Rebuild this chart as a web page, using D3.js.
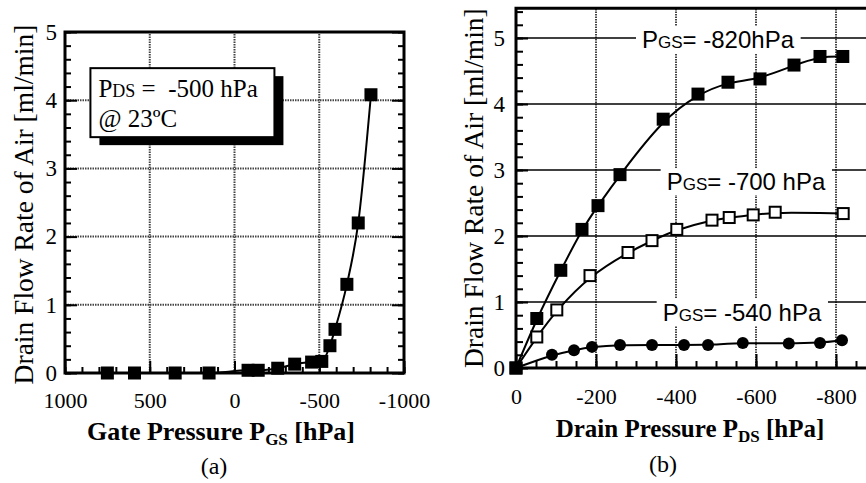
<!DOCTYPE html>
<html>
<head>
<meta charset="utf-8">
<script src="https://cdn.jsdelivr.net/npm/d3@7"></script>
<style>
  body { margin: 0; background: #fff; }
  svg { display: block; }
</style>
</head>
<body>
<svg id="chart" width="866" height="483"></svg>
<script>
// ---- data: panel (a), drain flow vs gate pressure at PDS = -500 hPa
const gateP = [750, 590, 350, 150, -80, -140, -255, -355, -455, -515, -563, -593, -663, -730, -805];
const gateFlow = [0.0, 0.0, 0.0, 0.0, 0.04, 0.04, 0.07, 0.13, 0.16, 0.17, 0.4, 0.64, 1.3, 2.2, 4.08];

// ---- data: panel (b), drain flow vs drain pressure for three gate pressures
const drainP820 = [0, -52, -112, -165, -205, -260, -368, -455, -530, -610, -695, -760, -817];
const flow820 = [0, 0.75, 1.48, 2.1, 2.46, 2.93, 3.77, 4.15, 4.33, 4.38, 4.59, 4.72, 4.72];
const drainP700 = [0, -52, -102, -185, -280, -340, -402, -490, -533, -593, -648, -818];
const flow700 = [0, 0.47, 0.88, 1.4, 1.75, 1.93, 2.1, 2.24, 2.28, 2.32, 2.36, 2.34];
const drainP540 = [0, -90, -145, -190, -260, -340, -420, -480, -567, -682, -760, -815];
const flow540 = [0, 0.2, 0.27, 0.32, 0.35, 0.35, 0.35, 0.35, 0.38, 0.37, 0.38, 0.42];

const aXTicks = [1000, 500, 0, -500, -1000];
const bXTicks = [0, -200, -400, -600, -800];
const yTicks = [0, 1, 2, 3, 4, 5];

const svg = d3.select('#chart');
const serif = '"Liberation Serif", "Times New Roman", serif';
const sans = '"Liberation Sans", Arial, sans-serif';

// helper: axis styling
function styleAxis(g, fs) {
    g.select('.domain').remove();
    g.selectAll('line').attr('stroke', '#000').attr('stroke-width', 2);
    g.selectAll('text').attr('font-family', serif).attr('font-size', fs).attr('fill', '#000');
}

// =================== panel (a) ===================
const ax = d3.scaleLinear().domain([1000, -1000]).range([65, 404]);
const ay = d3.scaleLinear().domain([0, 5]).range([373, 32]);
const ga = svg.append('g');

// dotted grid
ga.selectAll('.vgrid').data([500, 0, -500]).join('line')
    .attr('x1', d => ax(d)).attr('x2', d => ax(d))
    .attr('y1', ay(0)).attr('y2', ay(5))
    .attr('stroke', '#444').attr('stroke-width', 2).attr('stroke-dasharray', '1.5,1');
ga.selectAll('.hgrid').data([1, 2, 3, 4]).join('line')
    .attr('x1', ax(1000)).attr('x2', ax(-1000))
    .attr('y1', d => ay(d)).attr('y2', d => ay(d))
    .attr('stroke', '#444').attr('stroke-width', 2).attr('stroke-dasharray', '1.5,1');

// minor ticks
const aMinorX = d3.range(-1000, 1001, 100);
const aMinorY = d3.range(0, 5.01, 0.2);
ga.append('g').attr('transform', `translate(0,${ay(0)})`)
    .call(d3.axisBottom(ax).tickValues(aMinorX).tickSize(-6).tickFormat(''))
    .call(g => styleAxis(g, 0));
ga.append('g').attr('transform', `translate(${ax(1000)},0)`)
    .call(d3.axisLeft(ay).tickValues(aMinorY).tickSize(-6).tickFormat(''))
    .call(g => styleAxis(g, 0));
ga.append('g').attr('transform', `translate(${ax(-1000)},0)`)
    .call(d3.axisRight(ay).tickValues(aMinorY).tickSize(-6).tickFormat(''))
    .call(g => styleAxis(g, 0));

// major ticks + labels
ga.append('g').attr('transform', `translate(0,${ay(0)})`)
    .call(d3.axisBottom(ax).tickValues(aXTicks).tickSize(-12).tickPadding(19).tickFormat(d => d))
    .call(g => styleAxis(g, 22));
ga.append('g').attr('transform', `translate(${ax(1000)},0)`)
    .call(d3.axisLeft(ay).tickValues(yTicks).tickSize(-12).tickPadding(8).tickFormat(d => d))
    .call(g => styleAxis(g, 23));
ga.append('g').attr('transform', `translate(${ax(-1000)},0)`)
    .call(d3.axisRight(ay).tickValues(yTicks).tickSize(-12).tickFormat(''))
    .call(g => styleAxis(g, 0));

// frame
ga.append('rect')
    .attr('x', ax(1000)).attr('y', ay(5))
    .attr('width', ax(-1000) - ax(1000)).attr('height', ay(0) - ay(5))
    .attr('fill', 'none').attr('stroke', '#000').attr('stroke-width', 3);

// annotation box with shadow
const boxX = ax(850), boxY = ay(4.47);
ga.append('rect').attr('x', boxX + 9).attr('y', boxY + 8).attr('width', 184).attr('height', 69).attr('fill', '#000');
ga.append('rect').attr('x', boxX).attr('y', boxY).attr('width', 184).attr('height', 69)
    .attr('fill', '#fff').attr('stroke', '#000').attr('stroke-width', 2);
const note1 = ga.append('text').attr('x', boxX + 8).attr('y', boxY + 29)
    .attr('font-family', serif).attr('font-size', 25);
note1.append('tspan').text('P');
note1.append('tspan').attr('font-size', 18).text('DS');
note1.append('tspan').text(' =\u00a0 -500 hPa');
ga.append('text').attr('x', boxX + 8).attr('y', boxY + 59)
    .attr('font-family', serif).attr('font-size', 25).text('@ 23ºC');

// data line + markers
const aPts = gateP.map((p, i) => ({ x: p, y: gateFlow[i] }));
ga.append('path').datum(aPts)
    .attr('fill', 'none').attr('stroke', '#000').attr('stroke-width', 2)
    .attr('d', d3.line().x(d => ax(d.x)).y(d => ay(d.y)).curve(d3.curveMonotoneX));
ga.selectAll('.sqa').data(aPts).join('rect')
    .attr('x', d => ax(d.x) - 6.5).attr('y', d => ay(d.y) - 6.5)
    .attr('width', 13).attr('height', 13).attr('fill', '#000');

// titles
ga.append('text')
    .attr('transform', `translate(33,${(ay(0) + ay(5)) / 2 + 2}) rotate(-90)`)
    .attr('text-anchor', 'middle').attr('font-family', serif).attr('font-size', 27.5)
    .text('Drain Flow Rate of Air [ml/min]');
const ta = ga.append('text').attr('x', 221).attr('y', 440)
    .attr('text-anchor', 'middle').attr('font-family', serif).attr('font-size', 26).attr('font-weight', 'bold');
ta.append('tspan').text('Gate Pressure P');
ta.append('tspan').attr('font-size', 17).attr('dy', 5).text('GS');
ta.append('tspan').attr('dy', -5).text(' [hPa]');
ga.append('text').attr('x', 214).attr('y', 474).attr('text-anchor', 'middle')
    .attr('font-family', serif).attr('font-size', 24).text('(a)');

// =================== panel (b) ===================
const bx = d3.scaleLinear().domain([0, -800]).range([516, 836]);
const by = d3.scaleLinear().domain([0, 5]).range([368, 38]);
const gb = svg.append('g');
const bRight = bx(-890);
const bTop = by(5.45);

// dotted verticals
gb.selectAll('.vgrid').data([-200, -400, -600, -800]).join('line')
    .attr('x1', d => bx(d)).attr('x2', d => bx(d))
    .attr('y1', by(0)).attr('y2', bTop)
    .attr('stroke', '#444').attr('stroke-width', 2).attr('stroke-dasharray', '1.5,1');
// solid horizontals
gb.selectAll('.hgrid').data([1, 2, 3, 4, 5]).join('line')
    .attr('x1', bx(0)).attr('x2', bRight)
    .attr('y1', d => by(d)).attr('y2', d => by(d))
    .attr('stroke', '#000').attr('stroke-width', 1.5);

// minor ticks
gb.append('g').attr('transform', `translate(0,${by(0)})`)
    .call(d3.axisBottom(bx).tickValues(d3.range(0, -901, -50)).tickSize(-7).tickFormat(''))
    .call(g => styleAxis(g, 0));
gb.append('g').attr('transform', `translate(${bx(0)},0)`)
    .call(d3.axisLeft(by).tickValues(d3.range(0, 5.41, 0.2)).tickSize(-7).tickFormat(''))
    .call(g => styleAxis(g, 0));
// major ticks + labels
gb.append('g').attr('transform', `translate(0,${by(0)})`)
    .call(d3.axisBottom(bx).tickValues(bXTicks).tickSize(-14).tickPadding(20).tickFormat(d => d))
    .call(g => styleAxis(g, 22));
gb.append('g').attr('transform', `translate(${bx(0)},0)`)
    .call(d3.axisLeft(by).tickValues(yTicks).tickSize(-12).tickPadding(11).tickFormat(d => d))
    .call(g => styleAxis(g, 23));

// frame (left, top, bottom)
gb.append('path')
    .attr('d', `M${bRight},${bTop}H${bx(0)}V${by(0)}H${bRight}`)
    .attr('fill', 'none').attr('stroke', '#000').attr('stroke-width', 3);

// series labels with white backing
function seriesLabel(xv, baseY, val) {
    const t = gb.append('text').attr('x', bx(xv)).attr('y', baseY)
        .attr('text-anchor', 'middle').attr('font-family', sans).attr('font-size', 24);
    t.append('tspan').text('P');
    t.append('tspan').attr('font-size', 17).text('GS');
    t.append('tspan').text('= ' + val);
    const bb = t.node().getBBox();
    gb.insert('rect', function () { return t.node(); })
        .attr('x', bb.x - 6).attr('y', bb.y).attr('width', bb.width + 12).attr('height', bb.height)
        .attr('fill', '#fff');
}
seriesLabel(-505, by(5) + 10, '-820hPa');
seriesLabel(-575, by(3) + 20, '-700 hPa');
seriesLabel(-565, by(1) + 19, '-540 hPa');

const lineB = d3.line().x(d => bx(d.x)).y(d => by(d.y)).curve(d3.curveBasis);
const s820 = drainP820.map((p, i) => ({ x: p, y: flow820[i] }));
const s700 = drainP700.map((p, i) => ({ x: p, y: flow700[i] }));
const s540 = drainP540.map((p, i) => ({ x: p, y: flow540[i] }));

[s540, s700, s820].forEach(s => {
    gb.append('path').datum(s).attr('fill', 'none').attr('stroke', '#000')
        .attr('stroke-width', 2).attr('d', lineB);
});

gb.selectAll('.c540').data(s540).join('circle')
    .attr('cx', d => bx(d.x)).attr('cy', d => by(d.y)).attr('r', 6).attr('fill', '#000');
gb.selectAll('.o700').data(s700).join('rect')
    .attr('x', d => bx(d.x) - 5.5).attr('y', d => by(d.y) - 5.5)
    .attr('width', 11).attr('height', 11).attr('fill', '#fff').attr('stroke', '#000').attr('stroke-width', 2);
gb.selectAll('.f820').data(s820).join('rect')
    .attr('x', d => bx(d.x) - 6.5).attr('y', d => by(d.y) - 6.5)
    .attr('width', 13).attr('height', 13).attr('fill', '#000');

// titles
gb.append('text')
    .attr('transform', `translate(483,${(by(0) + by(5.45)) / 2}) rotate(-90)`)
    .attr('text-anchor', 'middle').attr('font-family', serif).attr('font-size', 27.5)
    .text('Drain Flow Rate of Air [ml/min]');
const tb = gb.append('text').attr('x', 690).attr('y', 437)
    .attr('text-anchor', 'middle').attr('font-family', serif).attr('font-size', 25).attr('font-weight', 'bold');
tb.append('tspan').text('Drain Pressure P');
tb.append('tspan').attr('font-size', 17).attr('dy', 5).text('DS');
tb.append('tspan').attr('dy', -5).text(' [hPa]');
gb.append('text').attr('x', 663).attr('y', 472).attr('text-anchor', 'middle')
    .attr('font-family', serif).attr('font-size', 24).text('(b)');
</script>
</body>
</html>
